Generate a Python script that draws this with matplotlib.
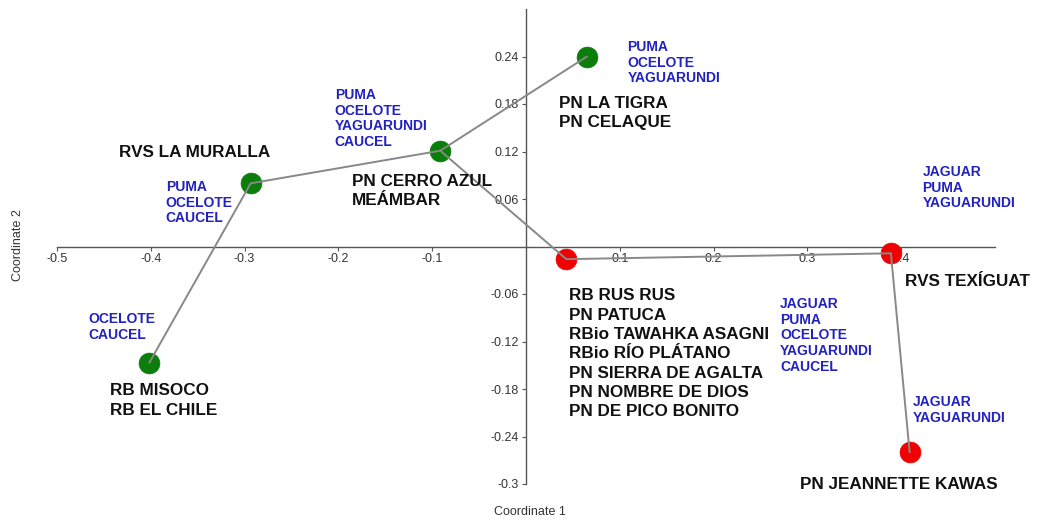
import matplotlib
matplotlib.use("Agg")
import matplotlib.pyplot as plt
from matplotlib.ticker import FixedLocator, FixedFormatter

plt.rcParams['font.family'] = ['Liberation Sans', 'DejaVu Sans']

# Ordination coordinates of each group of protected areas
site_names = ["RB MISOCO", "RVS LA MURALLA", "PN CERRO AZUL", "PN LA TIGRA",
              "RB RUS RUS", "RVS TEXIGUAT", "PN JEANNETTE KAWAS"]
coord1 = [-0.4016, -0.2935, -0.0914, 0.065, 0.043, 0.389, 0.409]
coord2 = [-0.1468, 0.0798, 0.121, 0.240, -0.016, -0.0086, -0.260]
site_group = ["g", "g", "g", "g", "r", "r", "r"]

# Minimum spanning tree edges (indices into the site lists)
edges = [(0, 1), (1, 2), (2, 3), (2, 4), (4, 5), (5, 6)]

# Area labels and species lists, anchored at the upper-left corner
area_labels = [
    ("RVS LA MURALLA", -0.434, 0.128),
    ("PN CERRO AZUL\nMEÁMBAR", -0.186, 0.092),
    ("PN LA TIGRA\nPN CELAQUE", 0.0355, 0.190),
    ("RB MISOCO\nRB EL CHILE", -0.444, -0.173),
    ("RB RUS RUS\nPN PATUCA\nRBio TAWAHKA ASAGNI\nRBio RÍO PLÁTANO\n"
     "PN SIERRA DE AGALTA\nPN NOMBRE DE DIOS\nPN DE PICO BONITO", 0.046, -0.053),
    ("PN JEANNETTE KAWAS", 0.292, -0.2915),
]
species_labels = [
    ("PUMA\nOCELOTE\nCAUCEL", -0.384, 0.084),
    ("PUMA\nOCELOTE\nYAGUARUNDI\nCAUCEL", -0.204, 0.200),
    ("PUMA\nOCELOTE\nYAGUARUNDI", 0.108, 0.261),
    ("OCELOTE\nCAUCEL", -0.467, -0.083),
    ("JAGUAR\nPUMA\nYAGUARUNDI", 0.4225, 0.103),
    ("JAGUAR\nPUMA\nOCELOTE\nYAGUARUNDI\nCAUCEL", 0.271, -0.064),
    ("JAGUAR\nYAGUARUNDI", 0.412, -0.1876),
]

x_ticks = [-0.5, -0.4, -0.3, -0.2, -0.1, 0.1, 0.2, 0.3, 0.4]
x_tick_labels = ["-0.5", "-0.4", "-0.3", "-0.2", "-0.1", "0.1", "0.2", "0.3", "0.4"]
y_ticks = [0.24, 0.18, 0.12, 0.06, -0.06, -0.12, -0.18, -0.24, -0.3]
y_tick_labels = ["0.24", "0.18", "0.12", "0.06", "-0.06", "-0.12", "-0.18", "-0.24", "-0.3"]

group_colors = {"g": "#0a7d0a", "r": "#f00000"}
black_txt = "#111111"
blue_txt = "#2222c0"
axis_col = "#555555"

fig = plt.figure(figsize=(10.49, 5.2), dpi=100)
ax = fig.add_axes([57 / 1049, 1 - 484 / 520, (995 - 57) / 1049, (484 - 9) / 520])
ax.set_xlim(-0.5, 0.5)
ax.set_ylim(-0.3, 0.3)

for a, b in edges:
    ax.plot([coord1[a], coord1[b]], [coord2[a], coord2[b]],
            color="#888888", lw=1.4, zorder=4, solid_capstyle="round")

for x, y, g in zip(coord1, coord2, site_group):
    ax.plot(x, y, "o", ms=15, color=group_colors[g], mec=group_colors[g],
            mew=0.5, zorder=3)

for txt, x, y in area_labels:
    ax.text(x, y, txt, ha="left", va="top", fontsize=12.3, fontweight="bold",
            color=black_txt, linespacing=1.36, zorder=5)
ax.text(0.404, -0.0495, "RVS TEXÍGUAT", ha="left", va="baseline", fontsize=12.3,
        fontweight="bold", color=black_txt, zorder=5)

for txt, x, y in species_labels:
    ax.text(x, y, txt, ha="left", va="top", fontsize=10, fontweight="bold",
            color=blue_txt, linespacing=1.15, zorder=5)

# Axes crossing at the origin
for side in ("top", "right"):
    ax.spines[side].set_visible(False)
ax.spines["left"].set_position(("data", 0))
ax.spines["bottom"].set_position(("data", 0))
for side in ("left", "bottom"):
    ax.spines[side].set_color(axis_col)
    ax.spines[side].set_linewidth(1.0)

ax.xaxis.set_major_locator(FixedLocator(x_ticks))
ax.xaxis.set_major_formatter(FixedFormatter(x_tick_labels))
ax.yaxis.set_major_locator(FixedLocator(y_ticks))
ax.yaxis.set_major_formatter(FixedFormatter(y_tick_labels))
ax.tick_params(axis="both", direction="out", length=3, width=0.8,
               color=axis_col, labelcolor="#333333", labelsize=9, pad=2)

fig.text(530 / 1049, 1 - 512 / 520, "Coordinate 1", ha="center", va="center",
         fontsize=9, color="#333333")
fig.text(18 / 1049, 1 - 245 / 520, "Coordinate 2", ha="center", va="center",
         rotation=90, fontsize=9, color="#333333")

fig.savefig("out.png", dpi=100, facecolor="white")
